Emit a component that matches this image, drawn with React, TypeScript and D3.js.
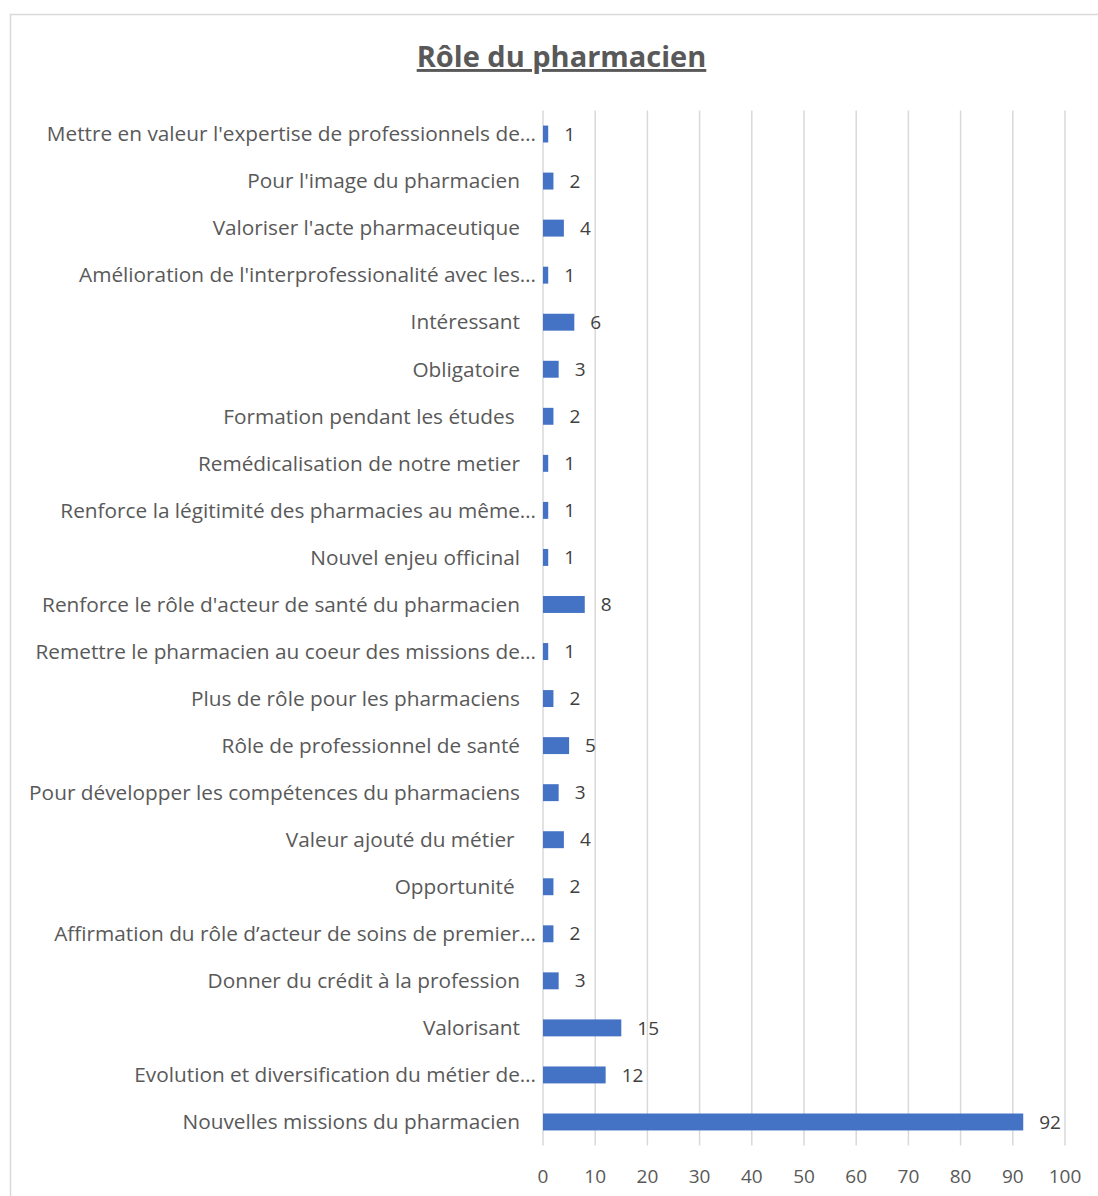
import React from "react";
import * as d3 from "d3";

const categories: string[] = [
  "Mettre en valeur l'expertise de professionnels de…",
  "Pour l'image du pharmacien",
  "Valoriser l'acte pharmaceutique",
  "Amélioration de l'interprofessionalité avec les…",
  "Intéressant",
  "Obligatoire",
  "Formation pendant les études ",
  "Remédicalisation de notre metier",
  "Renforce la légitimité des pharmacies au même…",
  "Nouvel enjeu officinal",
  "Renforce le rôle d'acteur de santé du pharmacien",
  "Remettre le pharmacien au coeur des missions de…",
  "Plus de rôle pour les pharmaciens",
  "Rôle de professionnel de santé",
  "Pour développer les compétences du pharmaciens",
  "Valeur ajouté du métier ",
  "Opportunité ",
  "Affirmation du rôle d’acteur de soins de premier…",
  "Donner du crédit à la profession",
  "Valorisant",
  "Evolution et diversification du métier de…",
  "Nouvelles missions du pharmacien",
];

const values: number[] = [1, 2, 4, 1, 6, 3, 2, 1, 1, 1, 8, 1, 2, 5, 3, 4, 2, 2, 3, 15, 12, 92];

const xTicks: number[] = [0, 10, 20, 30, 40, 50, 60, 70, 80, 90, 100];

const title = "Rôle du pharmacien";

export default function App() {
  const W = 1098;
  const H = 1196;
  const left = 543;
  const right = 1065;
  const top = 110.5;
  const bottom = 1145.5;
  const x = d3.scaleLinear().domain([0, 100]).range([left, right]);
  const y = d3
    .scaleBand<string>()
    .domain(categories)
    .range([top, bottom])
    .paddingInner(0.64)
    .paddingOuter(0.32);
  const textColor = "#595959";
  const font = "'Open Sans', sans-serif";

  return (
    <svg
      width={W}
      height={H}
      style={{ position: "absolute", left: 0, top: 0, background: "#fff" }}
      fontFamily={font}
    >
      <rect x={10.5} y={14.5} width={1200} height={1300} fill="#fff" stroke="#d9d9d9" strokeWidth={1.5} />
      <text
        x={561.5}
        y={67}
        textAnchor="middle"
        fontSize={29}
        fontWeight="bold"
        fill={textColor}
        textDecoration="underline"
      >
        {title}
      </text>
      {xTicks.map((t) => (
        <line key={"g" + t} x1={x(t)} x2={x(t)} y1={top} y2={bottom} stroke="#d9d9d9" strokeWidth={1.5} />
      ))}
      {categories.map((c, i) => {
        const yy = y(c)!;
        const cy = yy + y.bandwidth() / 2;
        const truncated = c.endsWith("…");
        return (
          <g key={c}>
            <rect x={x(0)} y={yy} width={x(values[i]) - x(0)} height={y.bandwidth()} fill="#4472c4" />
            <text
              x={truncated ? 536 : 520}
              y={cy}
              dy="0.35em"
              textAnchor="end"
              fontSize={20.8}
              fill={textColor}
              style={{ whiteSpace: "pre" }}
            >
              {c}
            </text>
            <text x={x(values[i]) + 16} y={cy} dy="0.35em" fontSize={19} fill="#404040">
              {values[i]}
            </text>
          </g>
        );
      })}
      {xTicks.map((t) => (
        <text key={"t" + t} x={x(t)} y={1176} dy="0.35em" textAnchor="middle" fontSize={19} fill={textColor}>
          {t}
        </text>
      ))}
    </svg>
  );
}
